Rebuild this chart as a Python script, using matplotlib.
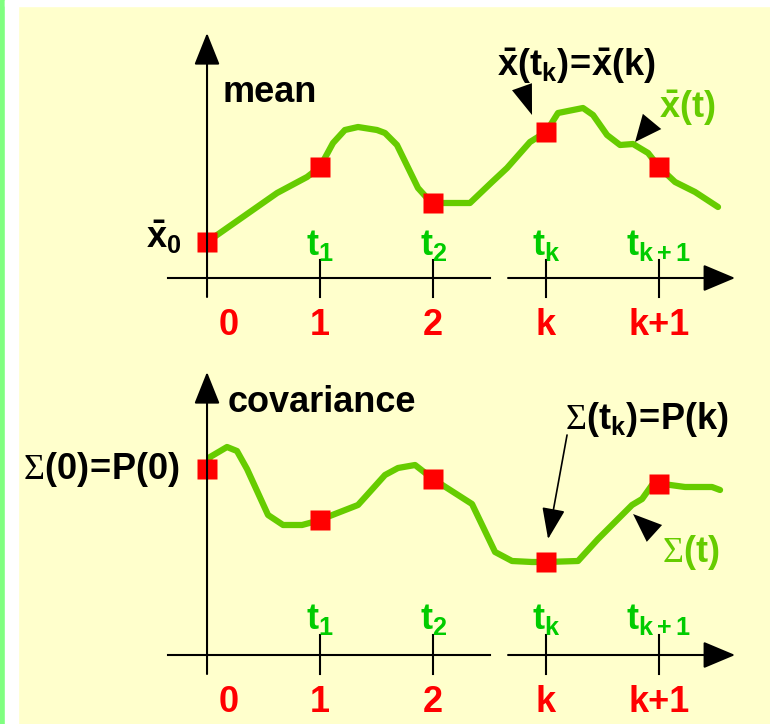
import matplotlib
matplotlib.use('Agg')
import matplotlib.pyplot as plt
from matplotlib.patches import Rectangle

plt.rcParams['font.family'] = ['Liberation Sans', 'DejaVu Sans']
plt.rcParams['mathtext.fontset'] = 'custom'
plt.rcParams['mathtext.rm'] = 'Liberation Sans:bold'
plt.rcParams['mathtext.it'] = 'Liberation Sans:bold'
plt.rcParams['mathtext.bf'] = 'Liberation Sans:bold'
plt.rcParams['mathtext.sf'] = 'Liberation Serif'

# colours
BG = '#FFFFCC'
CURVE = '#66CC00'
TLABEL = '#00CC00'
RED = '#FF0000'

# sample instants 0, 1, 2, k, k+1 on the time axis
step_pos = [0, 1, 2, 3, 4]
step_labels = ['0', '1', '2', 'k', 'k+1']
time_labels = [r'$t_1$', r'$t_2$', r'$t_k$', r'$t_{k+1}$']

# mean trajectory x(t) and its samples x(k)
mean_t = [0.0, 0.62, 0.885, 1.0, 1.115, 1.22, 1.336, 1.504, 1.575, 1.681, 1.867,
          1.947, 2.0, 2.124, 2.327, 2.522, 2.655, 2.858, 3.0, 3.106, 3.327,
          3.416, 3.54, 3.655, 3.77, 3.903, 4.0, 4.142, 4.319, 4.522]
mean_val = [0.36, 0.85, 1.01, 1.11, 1.35, 1.48, 1.51, 1.48, 1.45, 1.33, 0.90,
            0.80, 0.75, 0.75, 0.75, 0.96, 1.10, 1.36, 1.46, 1.65, 1.70,
            1.63, 1.43, 1.33, 1.34, 1.25, 1.11, 0.96, 0.86, 0.71]
mean_samples = [0.36, 1.11, 0.75, 1.46, 1.11]

# covariance trajectory Sigma(t) and its samples P(k)
cov_t = [0.0, 0.027, 0.177, 0.265, 0.354, 0.54, 0.673, 0.841, 0.973, 1.336,
         1.416, 1.575, 1.69, 1.841, 2.0, 2.345, 2.549, 2.699, 2.876, 3.0,
         3.283, 3.46, 3.761, 3.85, 3.938, 4.035, 4.23, 4.469, 4.54]
cov_val = [1.86, 1.98, 2.08, 2.04, 1.86, 1.40, 1.30, 1.30, 1.34, 1.50,
           1.60, 1.80, 1.87, 1.90, 1.76, 1.51, 1.03, 0.94, 0.93, 0.93,
           0.94, 1.16, 1.50, 1.56, 1.70, 1.71, 1.68, 1.68, 1.65]
cov_samples = [1.86, 1.35, 1.76, 0.93, 1.71]

FS = 26


def head(ax, tip, base, length, width, scale=20, lw=0.0):
    ax.annotate('', xy=tip, xytext=base,
                arrowprops=dict(arrowstyle='-|>,head_length=%.2f,head_width=%.2f' % (length, width),
                                mutation_scale=scale, color='black', lw=lw,
                                shrinkA=0, shrinkB=0))


def draw_axes(ax, y_top, tick_top, t_base):
    # time axis, broken between 2 and k
    ax.plot([-0.345, 2.504], [0, 0], color='black', lw=1.5)
    head(ax, (4.673, 0), (2.664, 0), 1.0, 0.42, lw=1.5)
    # value axis
    head(ax, (0, y_top), (0, -0.19), 1.0, 0.4, lw=1.5)
    for p in step_pos[1:]:
        ax.plot([p, p], [-0.19, tick_top], color='black', lw=1.5)
    for p, lab in zip(step_pos[1:], time_labels):
        ax.text(p, t_base, lab, color=TLABEL, fontsize=FS, ha='center', va='baseline')
    for p, lab in zip(step_pos, step_labels):
        x = p + 0.19 if p == 0 else p
        ax.text(x, -0.57, lab, color=RED, fontsize=FS, fontweight='bold',
                ha='center', va='baseline')


fig = plt.figure(figsize=(7.7, 7.24), dpi=100, facecolor=BG)
fig.add_artist(Rectangle((0, 0), 5 / 770, 1, transform=fig.transFigure,
                         color='#80FF80', zorder=-1))
fig.add_artist(Rectangle((5 / 770, 0), 13 / 770, 1, transform=fig.transFigure,
                         color='white', zorder=-1))
fig.add_artist(Rectangle((5 / 770, 1 - 6 / 724), 1, 6 / 724, transform=fig.transFigure,
                         color='white', zorder=-1))

ax1 = fig.add_axes([0, 0.5, 1, 0.5])
ax2 = fig.add_axes([0, 0, 1, 0.5])
for ax in (ax1, ax2):
    ax.set_xlim(-1.832, 4.982)
    ax.set_facecolor('none')
    ax.axis('off')
ax1.set_ylim(-0.84, 2.78)
ax2.set_ylim(-0.69, 2.93)

# mean panel
draw_axes(ax1, 2.45, 0.18, 0.23)
ax1.plot(mean_t, mean_val, color=CURVE, lw=4.5, solid_capstyle='round',
         solid_joinstyle='round')
ax1.plot(step_pos, mean_samples, 's', color=RED, ms=15, mec='none')
ax1.text(0.133, 1.76, 'mean', fontsize=FS, fontweight='bold', va='baseline')
ax1.text(-0.23, 0.30, r'$\bar{x}_0$', fontsize=FS, ha='right', va='baseline')
ax1.text(2.565, 2.02, r'$\bar{x}(t_k)\!=\!\bar{x}(k)$', fontsize=FS, va='baseline')
ax1.text(4.0, 1.60, r'$\bar{x}(t)$', fontsize=FS, color=CURVE, va='baseline')
head(ax1, (2.876, 1.63), (2.788, 1.91), 1.08, 0.38)
head(ax1, (3.788, 1.36), (3.938, 1.565), 0.96, 0.43)

# covariance panel
draw_axes(ax2, 2.83, 0.20, 0.26)
ax2.plot(cov_t, cov_val, color=CURVE, lw=4.5, solid_capstyle='round',
         solid_joinstyle='round')
ax2.plot(step_pos, cov_samples, 's', color=RED, ms=15, mec='none')
ax2.text(0.186, 2.43, 'covariance', fontsize=FS, fontweight='bold', va='baseline')
ax2.text(-0.239, 1.76, r'$\mathsf{\Sigma}(0)\!=\!P(0)$', fontsize=FS, ha='right', va='baseline')
ax2.text(3.168, 2.26, r'$\mathsf{\Sigma}(t_k)\!=\!P(k)$', fontsize=FS, va='baseline')
ax2.text(4.027, 0.93, r'$\mathsf{\Sigma}(t)$', fontsize=FS, color=CURVE, va='baseline')
head(ax2, (3.018, 1.16), (3.186, 2.20), 0.97, 0.36, lw=1.2)
head(ax2, (3.770, 1.41), (3.960, 1.215), 1.04, 0.41)

fig.savefig('out.png', dpi=100, facecolor=BG)
